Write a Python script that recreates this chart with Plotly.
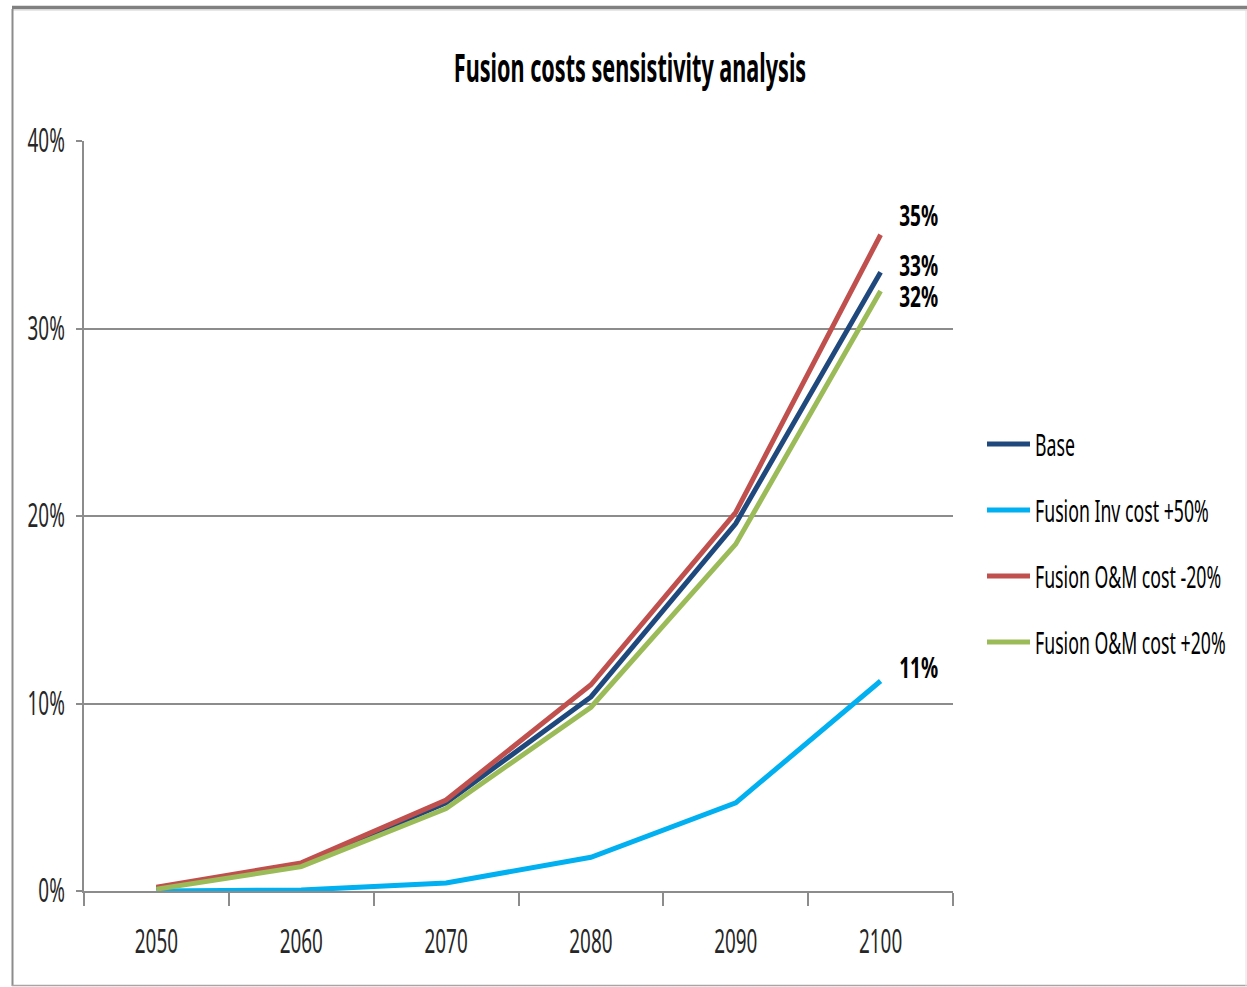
import plotly.graph_objects as go

# Chart data
years = ["2050", "2060", "2070", "2080", "2090", "2100"]
base = [0.0015, 0.014, 0.047, 0.1035, 0.196, 0.33]
inv_cost_plus50 = [0.0, 0.0005, 0.0043, 0.018, 0.047, 0.112]
om_cost_minus20 = [0.002, 0.015, 0.0485, 0.110, 0.202, 0.35]
om_cost_plus20 = [0.001, 0.013, 0.044, 0.098, 0.185, 0.32]

series_names = ["Base", "Fusion Inv cost +50%", "Fusion O&M cost -20%", "Fusion O&M cost +20%"]
series_values = [base, inv_cost_plus50, om_cost_minus20, om_cost_plus20]
series_colors = ["#1F497D", "#00B0F0", "#C0504D", "#9BBB59"]
# vertical nudge (px) of the end-value labels so they don't collide
label_shift = [7, 14, 20, -5]

FONT = "Noto Sans, Open Sans, sans-serif"
GRID = "#8C8C8C"

fig = go.Figure()
for i, (name, vals, col) in enumerate(zip(series_names, series_values, series_colors)):
    fig.add_trace(go.Scatter(
        x=years, y=vals, name=name, mode="lines",
        line=dict(color=col, width=5),
        legendgroup=f"g{i}",
    ))

last = len(years) - 1
annotations = []
for vals, dy in zip(series_values, label_shift):
    annotations.append(dict(
        x=last, y=vals[-1], xref="x", yref="y",
        text=f"<b>{vals[-1]:.0%}</b>", showarrow=False,
        xshift=38, yshift=dy,
        font=dict(family=FONT, size=28, color="#000000"),
    ))

# outer frame of the chart area
L, R, T, B = 84, 953, 141, 891
def px_x(p):
    return (p - L) / (R - L)
def px_y(p):
    return (B - p) / (B - T)

shapes = [
    dict(type="line", xref="paper", yref="paper", x0=px_x(12), x1=px_x(1247), y0=px_y(7.5), y1=px_y(7.5),
         line=dict(color="#808080", width=3.5)),
    dict(type="line", xref="paper", yref="paper", x0=px_x(12), x1=px_x(1247), y0=px_y(10), y1=px_y(10),
         line=dict(color="#D0D0D0", width=1)),
    dict(type="line", xref="paper", yref="paper", x0=px_x(12.5), x1=px_x(12.5), y0=px_y(986), y1=px_y(9),
         line=dict(color="#8C8C8C", width=2)),
    dict(type="line", xref="paper", yref="paper", x0=px_x(12), x1=px_x(1247), y0=px_y(985.5), y1=px_y(985.5),
         line=dict(color="#A6A6A6", width=1.5)),
    dict(type="line", xref="paper", yref="paper", x0=px_x(1246), x1=px_x(1246), y0=px_y(986), y1=px_y(9),
         line=dict(color="#E0E0E0", width=1)),
]

fig.update_layout(
    width=1247, height=987,
    margin=dict(l=L, r=1247 - R, t=T, b=987 - B, pad=0, autoexpand=False),
    paper_bgcolor="white", plot_bgcolor="white",
    font=dict(family=FONT, color="#262626"),
    title=dict(text="<b>Fusion costs sensistivity analysis</b>", x=630 / 1247, xanchor="center",
               y=1 - 68 / 987, yanchor="middle", xref="container", yref="container",
               font=dict(family=FONT, size=40, color="#000000")),
    xaxis=dict(
        type="category", tickson="boundaries", ticks="outside", ticklen=13, tickcolor=GRID, tickwidth=1.5,
        showline=True, linecolor=GRID, linewidth=1.5, showgrid=False, zeroline=False,
        tickfont=dict(family=FONT, size=32, color="#262626"), ticklabelstandoff=22,
        range=[-0.5, 5.5], automargin=False,
    ),
    yaxis=dict(
        range=[0, 0.4], dtick=0.1, tickformat=".0%", ticks="outside", ticklen=6, tickcolor=GRID,
        tickwidth=1.5, showline=True, linecolor=GRID, linewidth=1.5, showgrid=True, gridcolor=GRID,
        gridwidth=1.5, zeroline=False, tickfont=dict(family=FONT, size=32, color="#262626"),
        ticklabelstandoff=5, automargin=False,
    ),
    legend=dict(
        xref="container", yref="container",
        x=982 / 1247, xanchor="left", y=1 - 543 / 987, yanchor="middle",
        font=dict(family=FONT, size=30, color="#000000"),
        tracegroupgap=24, itemwidth=43, bgcolor="rgba(0,0,0,0)",
    ),
    showlegend=True,
    annotations=annotations,
    shapes=shapes,
)

# narrow letterforms: compress each label horizontally around its anchor
condense = """
function squeeze(sel, f) {
  document.querySelectorAll(sel).forEach(function (t) {
    var w = t.getComputedTextLength();
    if (w > 0) {
      t.setAttribute('textLength', (w * f).toFixed(2));
      t.setAttribute('lengthAdjust', 'spacingAndGlyphs');
    }
  });
}
squeeze('.gtitle', 0.54);
squeeze('.annotation-text', 0.68);
squeeze('.xtick text, .ytick text, .legendtext', 0.59);
"""

fig.write_html("out.html", post_script=condense)
